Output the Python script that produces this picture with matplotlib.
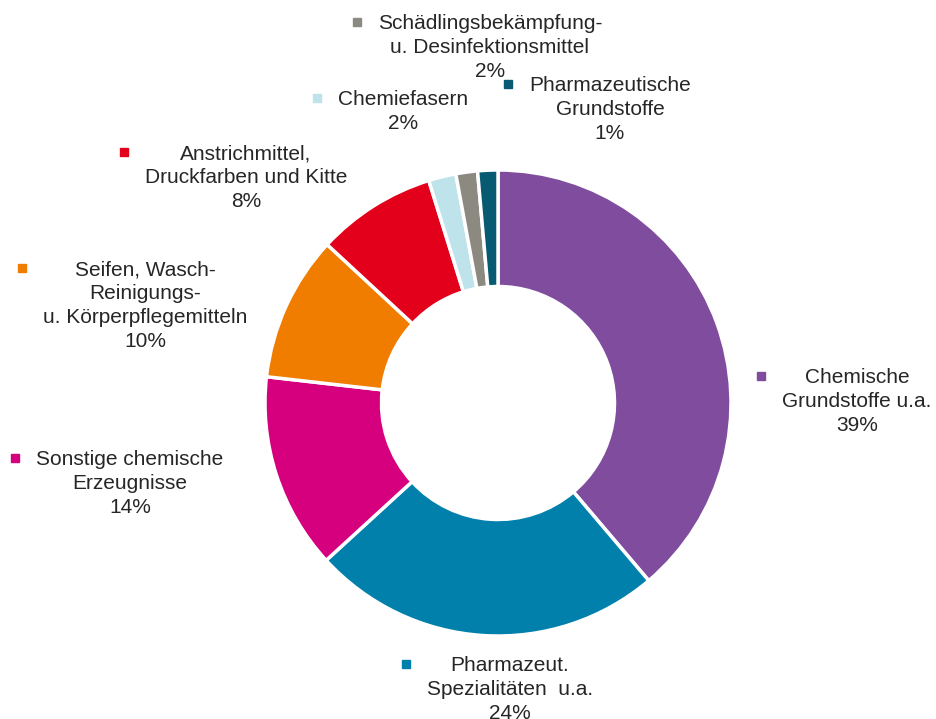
import matplotlib
matplotlib.use("Agg")
import matplotlib.pyplot as plt
from matplotlib.transforms import Affine2D

# ---- data ----
categories = [
    ["Chemische", "Grundstoffe u.a."],
    ["Pharmazeut.", "Spezialitäten  u.a."],
    ["Sonstige chemische", "Erzeugnisse"],
    ["Seifen, Wasch-", "Reinigungs-", "u. Körperpflegemitteln"],
    ["Anstrichmittel,", "Druckfarben und Kitte"],
    ["Chemiefasern"],
    ["Schädlingsbekämpfung-", "u. Desinfektionsmittel"],
    ["Pharmazeutische", "Grundstoffe"],
]
values = [38.8, 24.4, 13.6, 10.1, 8.3, 1.9, 1.5, 1.4]
pct_labels = ["39%", "24%", "14%", "10%", "8%", "2%", "2%", "1%"]
colors = ["#804C9E", "#0080AA", "#D6007E", "#F07D00", "#E2001A",
          "#BEE3EA", "#8C8A80", "#085A73"]

# ---- layout (pixels from top-left) ----
W, H = 936, 719
label_pos = [(857, 376), (510, 664), (130, 458), (145, 268),
             (246, 152), (403, 98), (490, 22), (610, 84)]
cx, cy, R = 498, 403, 233
text_color = "#262626"
fs = 15
line_h = 24

plt.rcParams['font.family'] = ['Liberation Sans', 'DejaVu Sans']
fig = plt.figure(figsize=(W / 100, H / 100), dpi=100)
fig.patch.set_facecolor("white")

ax = fig.add_axes([(cx - R) / W, (H - cy - R) / H, 2 * R / W, 2 * R / H])
wedges, _ = ax.pie(values, colors=colors, startangle=90, counterclock=False,
                   radius=1.0,
                   wedgeprops=dict(width=0.5, edgecolor="white", linewidth=2.5))
for w in wedges:
    w.set_clip_on(False)
ax.set_xlim(-1, 1)
ax.set_ylim(-1, 1)
ax.axis("off")

# pixel transform (origin top-left)
pix = Affine2D().scale(1.0, -1.0).translate(0, H) + fig.dpi_scale_trans.inverted().frozen() \
    if False else None
def fx(x):
    return x / W
def fy(y):
    return 1 - y / H

fig.canvas.draw()
renderer = fig.canvas.get_renderer()

for lines, pct, (lx, ly), col in zip(categories, pct_labels, label_pos, colors):
    all_lines = lines + [pct]
    maxw = 0
    for i, s in enumerate(all_lines):
        t = fig.text(fx(lx), fy(ly + 7 + i * line_h), s, ha="center", va="baseline",
                     fontsize=fs, color=text_color)
        bb = t.get_window_extent(renderer=renderer)
        maxw = max(maxw, bb.width)
    mx = lx - maxw / 2 - 21
    fig.add_artist(plt.Line2D([fx(mx)], [fy(ly)], marker="s", markersize=5.5,
                              color=col, linestyle="none",
                              transform=fig.transFigure))

fig.savefig("out.png", dpi=100, facecolor="white")
